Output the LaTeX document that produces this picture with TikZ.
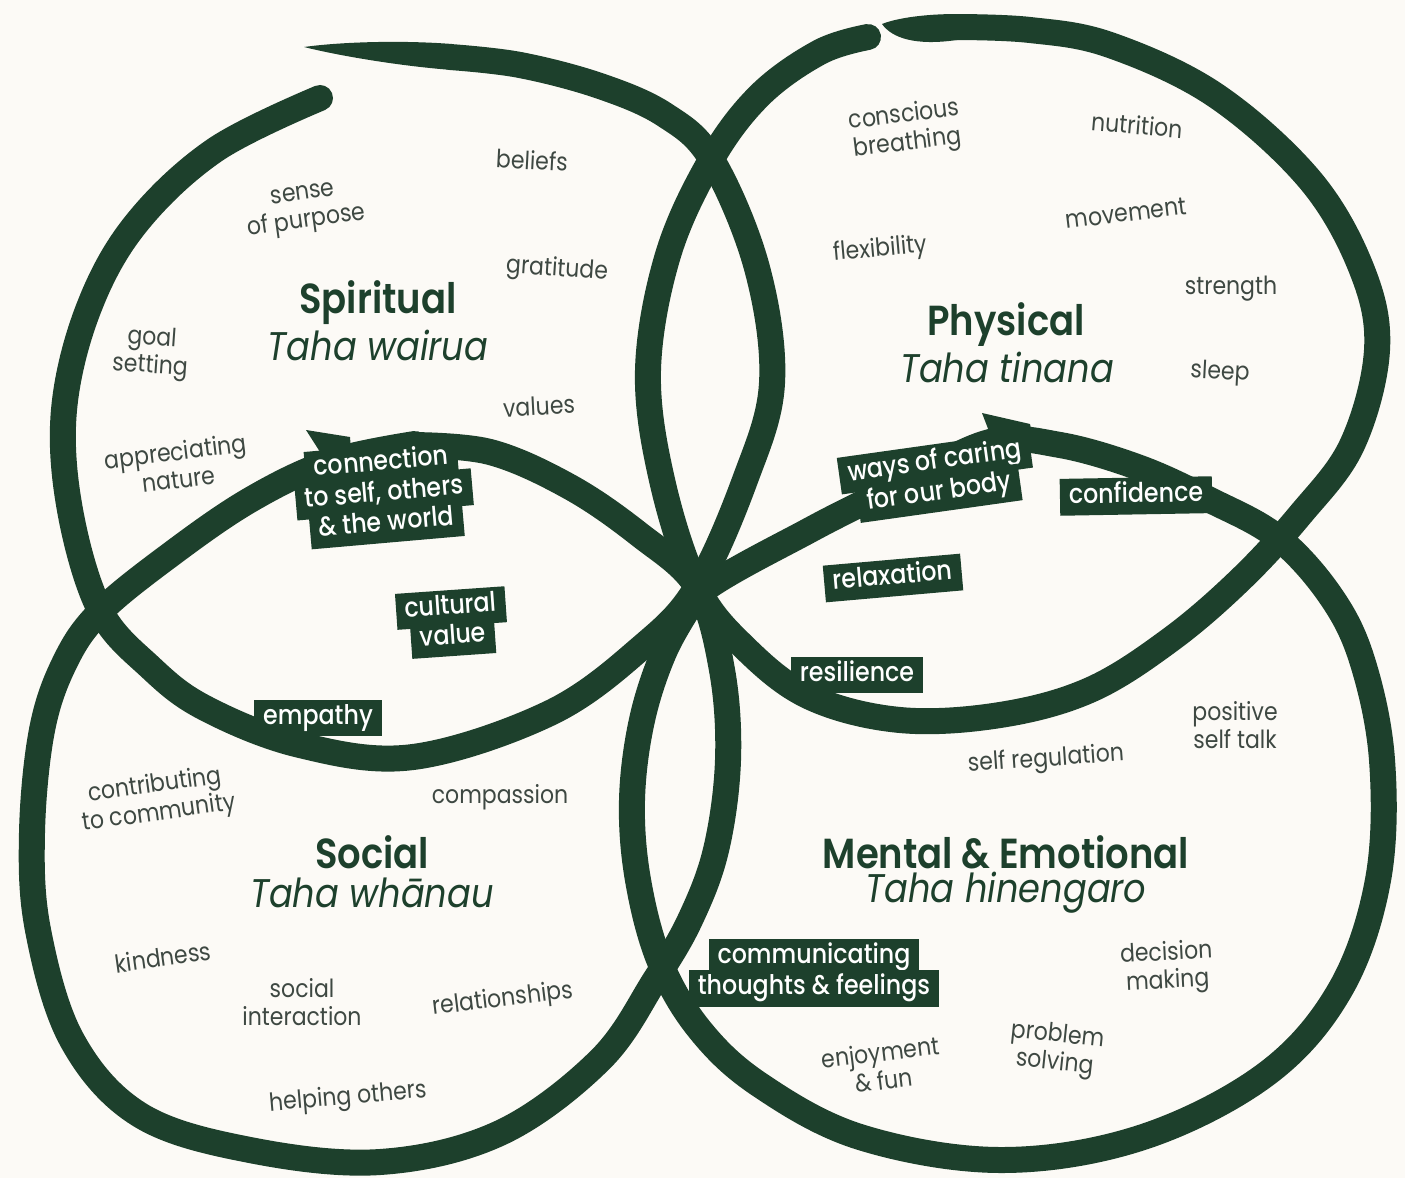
\documentclass[tikz,border=0pt]{standalone}
\usepackage{fontspec}
\setmainfont{Poppins}[FakeStretch=0.88]
\newfontfamily\headfont{Poppins SemiBold}[FakeStretch=0.88]
\newfontfamily\tagfont{Poppins Medium}[FakeStretch=0.88]
\definecolor{ink}{RGB}{29,64,44}
\definecolor{paper}{RGB}{252,250,246}
\definecolor{wordgrey}{RGB}{62,72,66}
\setlength{\fboxsep}{4pt}
\newcommand{\tagline}[1]{\colorbox{ink}{\hspace{5pt}\rule[-8pt]{0pt}{28pt}#1\hspace{5pt}}}
\begin{document}
\begin{tikzpicture}[x=1pt,y=-1pt,
    brush/.style={draw=ink, line width=26pt, line cap=round},
    word/.style={text=wordgrey, font=\fontsize{25}{28}\selectfont, align=center, inner sep=0pt},
    area/.style={text=ink, font=\fontsize{42}{46}\headfont, inner sep=0pt},
    maori/.style={text=ink, font=\fontsize{40}{44}\selectfont\itshape, inner sep=0pt},
    tag/.style={text=white, font=\fontsize{27}{30}\tagfont, align=center, inner sep=0pt}]
    \fill[paper] (0,0) rectangle (1405,1178);
    \useasboundingbox (0,0) rectangle (1405,1178);

    % the four brush loops
    \draw[brush] plot[smooth, tension=0.6] coordinates {(320,98) (215,150) (135,225) (88,310) (64,410) (70,510) (100,610) (150,667) (205,708) (300,745) (413,757) (550,713) (642,647) (697,587) (745,480) (772,383) (757,268) (712,160) (665,115) (600,86) (520,65) (450,57)};
    \draw[brush] plot[smooth, tension=0.6] coordinates {(955,27) (1030,30) (1110,45) (1215,95) (1310,180) (1362,270) (1377,350) (1352,445) (1300,515) (1240,580) (1170,640) (1090,690) (1000,715) (900,720) (810,697) (745,648) (697,587) (662,480) (648,370) (668,255) (711,160) (760,95) (820,52) (868,37)};
    \draw[brush] plot[smooth, tension=0.6] coordinates {(410,445) (490,452) (570,487) (640,535) (697,587) (722,670) (728,760) (716,850) (690,920) (655,980) (600,1060) (500,1133) (380,1162) (250,1150) (140,1115) (72,1040) (38,930) (32,833) (42,730) (65,662) (100,612) (170,555) (250,500) (330,462) (415,444)};
    \draw[brush] plot[smooth, tension=0.6] coordinates {(665,650) (697,595) (810,530) (900,485) (990,442) (1060,445) (1140,468) (1210,500) (1277,537) (1330,595) (1362,660) (1382,760) (1378,880) (1340,990) (1265,1075) (1140,1138) (1000,1160) (860,1137) (760,1085) (700,1030) (660,962) (638,880) (632,800) (642,720) (665,650) (697,595)};
    % tapered brush tips and flicks
    \fill[ink] (452,44) .. controls (400,40) and (340,42) .. (304,47) .. controls (340,56) and (400,66) .. (452,70) -- cycle;
    \fill[ink] (957,14) .. controls (925,14) and (897,18) .. (882,24) .. controls (892,38) and (915,46) .. (957,40) -- cycle;
    \fill[ink] (306,430) -- (350,437) -- (352,462) -- (322,455) -- cycle;
    \fill[ink] (982,413) -- (1030,424) -- (1036,452) -- (995,447) -- cycle;

    % Spiritual
    \node[area] (spiritual) at (378,303) {Spiritual};
    \node[maori] (wairua) at (378,345) {Taha wairua};
    \node[word, rotate=-3] (beliefs) at (532,160) {beliefs};
    \node[word, rotate=8] (purpose) at (305,210) {sense\\of purpose};
    \node[word, rotate=-4] (gratitude) at (557,270) {gratitude};
    \node[word, rotate=-4] (goal) at (151,353) {goal\\setting};
    \node[word, rotate=3] (values) at (539,406) {values};
    \node[word, rotate=7] (nature) at (177,465) {appreciating\\nature};

    % Physical
    \node[area] (physical) at (1006,325) {Physical};
    \node[maori] (tinana) at (1007,367) {Taha tinana};
    \node[word, rotate=7] (breathing) at (906,130) {conscious\\breathing};
    \node[word, rotate=-5] (nutrition) at (1137,125) {nutrition};
    \node[word, rotate=7] (movement) at (1126,213) {movement};
    \node[word, rotate=5] (flexibility) at (880,250) {flexibility};
    \node[word] (strength) at (1231,289) {strength};
    \node[word, rotate=-3] (sleep) at (1220,373) {sleep};

    % Social
    \node[area] (social) at (372,852) {Social};
    \node[maori] (whanau) at (372,893) {Taha whānau};
    \node[word, rotate=8] (community) at (157,800) {contributing\\to community};
    \node[word] (compassion) at (500,797) {compassion};
    \node[word, rotate=8] (kindness) at (163,957) {kindness};
    \node[word] (interaction) at (302,1002) {social\\interaction};
    \node[word, rotate=7] (relationships) at (503,1000) {relationships};
    \node[word, rotate=5] (helping) at (348,1098) {helping others};

    % Mental & Emotional
    \node[area] (mental) at (1006,852) {Mental \& Emotional};
    \node[maori] (hinengaro) at (1006,893) {Taha hinengaro};
    \node[word] (selftalk) at (1235,725) {positive\\self talk};
    \node[word, rotate=4] (regulation) at (1046,760) {self regulation};
    \node[word, rotate=3] (decision) at (1167,968) {decision\\making};
    \node[word, rotate=-6] (problem) at (1056,1050) {problem\\solving};
    \node[word, rotate=7] (enjoyment) at (882,1066) {enjoyment\\\& fun};

    % shared values on the strokes
    \node[tag, rotate=5] (connection) at (384,494) {\tagline{connection}\\[-7pt]\tagline{to self, others}\\[-7pt]\tagline{\& the world}};
    \node[tag, rotate=4] (cultural) at (452,623) {\tagline{cultural}\\[-7pt]\tagline{value}};
    \node[tag] (empathy) at (318,718) {\tagline{empathy}};
    \node[tag, rotate=8] (caring) at (937,478) {\tagline{ways of caring}\\[-7pt]\tagline{for our body}};
    \node[tag, rotate=1] (confidence) at (1136,496) {\tagline{confidence}};
    \node[tag, rotate=5] (relaxation) at (893,578) {\tagline{relaxation}};
    \node[tag] (resilience) at (857,675) {\tagline{resilience}};
    \node[tag] (communicating) at (814,973) {\tagline{communicating}\\[-7pt]\tagline{thoughts \& feelings}};
\end{tikzpicture}
\end{document}
